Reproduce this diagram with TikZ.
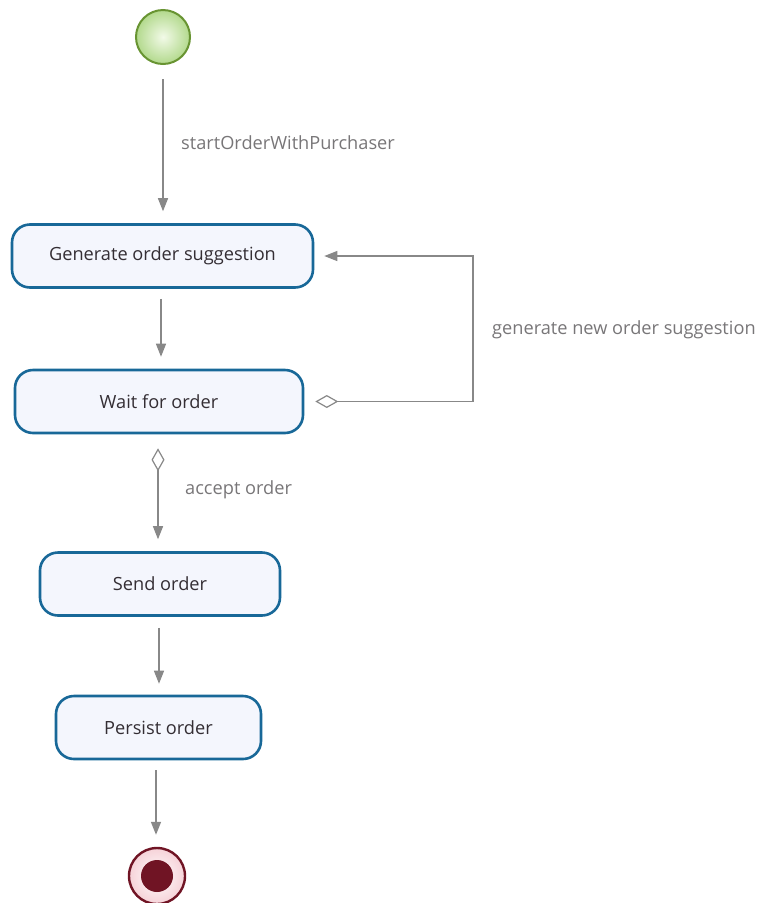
\documentclass[tikz,border=0pt]{standalone}
\usepackage{fontspec}
\setmainfont{Open Sans}
\usetikzlibrary{arrows.meta,calc}
\definecolor{boxline}{RGB}{24,104,152}
\definecolor{boxfill}{RGB}{244,246,253}
\definecolor{boxtext}{RGB}{52,46,52}
\definecolor{flow}{RGB}{136,136,136}
\definecolor{flowtext}{RGB}{120,118,120}
\definecolor{startline}{RGB}{104,148,50}
\definecolor{startin}{RGB}{242,250,232}
\definecolor{startout}{RGB}{178,217,140}
\definecolor{endred}{RGB}{112,20,36}
\definecolor{endpink}{RGB}{246,210,216}
\tikzset{
  x=1pt, y=-1pt,
  actbox/.style={draw=boxline, line width=2.6pt, fill=boxfill, rounded corners=18pt,
    minimum height=63pt, inner sep=0pt, text=boxtext, font=\fontsize{18.2}{20}\selectfont},
  flowline/.style={draw=flow, line width=1.4pt,
    -{Triangle[length=13pt,width=10pt]}},
  guardline/.style={draw=flow, line width=1.2pt,
    {Diamond[open,length=23pt,width=13pt,line width=1.2pt]}-{Triangle[length=13pt,width=10pt]}},
  flowlabel/.style={text=flowtext, anchor=west, inner sep=0pt, font=\fontsize{18.2}{20}\selectfont},
}
\begin{document}
\begin{tikzpicture}
\useasboundingbox (0,0) rectangle (761,903);

% initial state
\node (start) [circle, minimum size=54pt, inner sep=0pt, draw=startline, line width=2pt,
  inner color=startin, outer color=startout] at (163,37) {};

% activities
\node (gen)  [actbox, minimum width=301pt] at (162.5,256) {Generate order suggestion};
\node (wait) [actbox, minimum width=288pt] at (159,401.5) {Wait for order};
\node (send) [actbox, minimum width=240pt] at (160,584) {Send order};
\node (pers) [actbox, minimum width=205pt] at (158.5,727.5) {Persist order};

% final state
\node (stop) [circle, minimum size=56pt, inner sep=0pt, draw=endred, line width=2.4pt,
  inner color=white, outer color=endpink] at (157,876) {};
\node (stopcore) [circle, minimum size=32pt, inner sep=0pt, fill=endred] at (stop) {};

% start points of the vertical transitions
\coordinate (t1) at (start.south);
\coordinate (t2) at ($(gen.south)+(-1.5,0)$);
\coordinate (t3) at ($(wait.south)+(-1,0)$);
\coordinate (t4) at ($(send.south)+(-1,0)$);
\coordinate (t5) at ($(pers.south)+(-2.5,0)$);

% transitions
\draw[flowline, shorten <=14pt, shorten >=12pt] (t1) -- (t1 |- gen.north);
\draw[flowline, shorten <=10pt, shorten >=12pt] (t2) -- (t2 |- wait.north);
\draw[guardline, shorten <=14pt, shorten >=12pt] (t3) -- (t3 |- send.north);
\draw[flowline, shorten <=11pt, shorten >=11pt] (t4) -- (t4 |- pers.north);
\draw[flowline, shorten <=10pt, shorten >=12pt] (t5) -- (t5 |- stop.north);

% loop back to generation
\coordinate (loopx) at (473,0);
\draw[guardline, shorten <=11pt, shorten >=10pt]
  (wait.east) -- (wait.east -| loopx) -- (gen.east -| loopx) -- (gen.east);

% guard labels
\node (lbl1) [flowlabel] at (181,143) {startOrderWithPurchaser};
\node (lbl2) [flowlabel] at (492,330) {generate new order suggestion};
\node (lbl3) [flowlabel] at (185,490) {accept order};
\end{tikzpicture}
\end{document}
